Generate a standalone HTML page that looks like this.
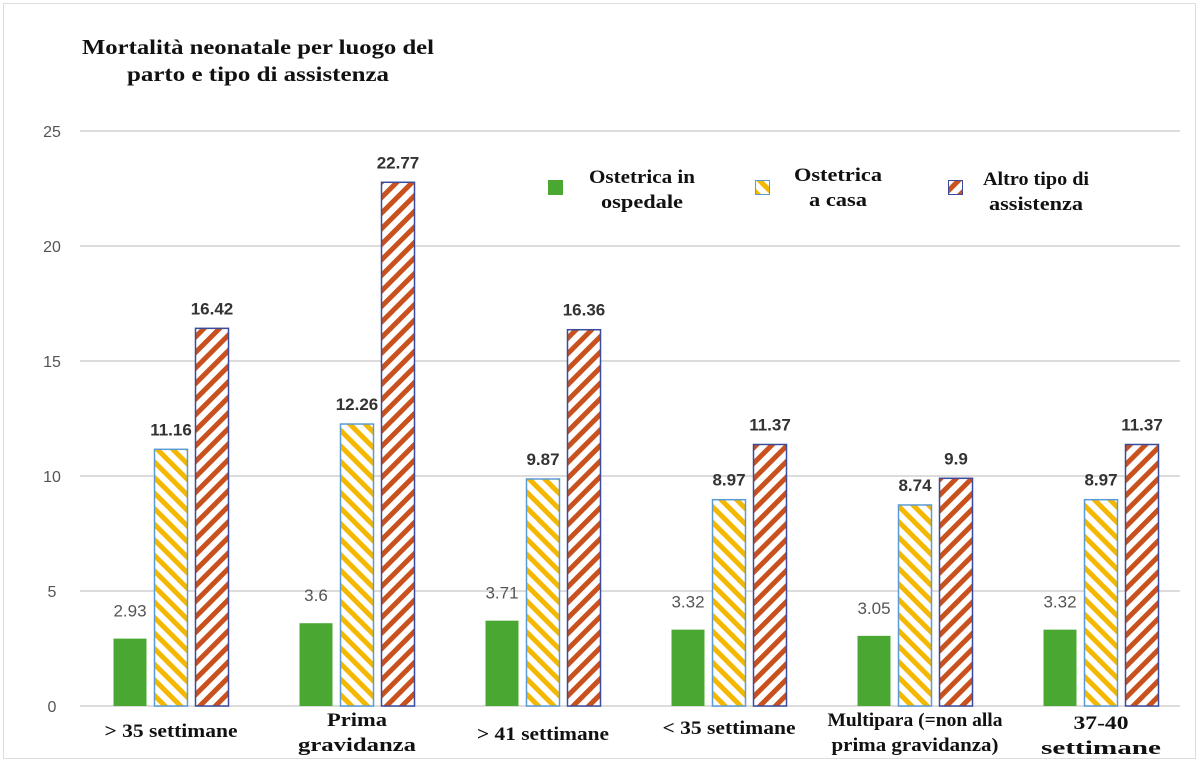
<!DOCTYPE html>
<html><head><meta charset="utf-8"><style>
html,body{margin:0;padding:0;background:#fff;}
svg{display:block;}
.serif{font-family:"Liberation Serif",serif;font-weight:bold;fill:#111;}
.sans{font-family:"Liberation Sans",sans-serif;}
</style></head><body>
<svg id="chart" width="1200" height="762" viewBox="0 0 1200 762">
<defs>
<pattern id="hatchY" patternUnits="userSpaceOnUse" width="11" height="11" patternTransform="rotate(-45)">
<rect width="11" height="11" fill="#fff"/><rect width="5" height="11" fill="#f5b800"/></pattern>
<pattern id="hatchR" patternUnits="userSpaceOnUse" width="11" height="11" patternTransform="rotate(45)">
<rect width="11" height="11" fill="#fff"/><rect width="5" height="11" fill="#c8511e"/></pattern>
</defs>
<rect x="3.5" y="3.5" width="1192" height="755" fill="#fff" stroke="#ddd"/>
<text class="serif" font-size="21" x="258" y="54" text-anchor="middle" textLength="352" lengthAdjust="spacingAndGlyphs">Mortalità neonatale per luogo del</text>
<text class="serif" font-size="21" x="258" y="81" text-anchor="middle" textLength="262" lengthAdjust="spacingAndGlyphs">parto e tipo di assistenza</text>
<g id="grid"></g>
<g id="bars"></g>
<g id="legend">
<rect x="548" y="180" width="15" height="15" fill="#4aa832"/>
<text class="serif" font-size="19" x="642" y="183" text-anchor="middle" textLength="106" lengthAdjust="spacingAndGlyphs">Ostetrica in</text>
<text class="serif" font-size="19" x="642" y="208" text-anchor="middle" textLength="82" lengthAdjust="spacingAndGlyphs">ospedale</text>
<rect x="755.5" y="180.5" width="14" height="14" fill="url(#hatchY)" stroke="#5b9bd5"/>
<text class="serif" font-size="19" x="838" y="181" text-anchor="middle" textLength="88" lengthAdjust="spacingAndGlyphs">Ostetrica</text>
<text class="serif" font-size="19" x="838" y="206" text-anchor="middle" textLength="58" lengthAdjust="spacingAndGlyphs">a casa</text>
<rect x="948.5" y="180.5" width="14" height="14" fill="url(#hatchR)" stroke="#3b4a9a"/>
<text class="serif" font-size="19" x="1036" y="185" text-anchor="middle" textLength="106" lengthAdjust="spacingAndGlyphs">Altro tipo di</text>
<text class="serif" font-size="19" x="1036" y="210" text-anchor="middle" textLength="94" lengthAdjust="spacingAndGlyphs">assistenza</text>
</g>
<g id="cats"></g>
</svg>
<script>
const categories = [["> 35 settimane"],["Prima","gravidanza"],["> 41 settimane"],["< 35 settimane"],["Multipara (=non alla","prima gravidanza)"],["37-40","settimane"]];
const hospital = [2.93, 3.6, 3.71, 3.32, 3.05, 3.32];
const home = [11.16, 12.26, 9.87, 8.97, 8.74, 8.97];
const other = [16.42, 22.77, 16.36, 11.37, 9.9, 11.37];
const ticks = [0, 5, 10, 15, 20, 25];

const NS = "http://www.w3.org/2000/svg";
const catLabelY = [[731],[720,745],[734],[728],[720,745],[723,748]];
const catLabelW = [[133],[60,118],[132],[133],[175,167],[55,120]];
const y = v => 706 - v * 23;
const groupX = i => 171 + i * 186;
function mk(tag, attrs, parent, txt){
  const e = document.createElementNS(NS, tag);
  for (const k in attrs) e.setAttribute(k, attrs[k]);
  if (txt !== undefined) e.textContent = txt;
  parent.appendChild(e); return e;
}
const grid = document.getElementById('grid');
ticks.forEach(t => {
  const l = mk('line', {x1:80, x2:1180, y1:y(t), y2:y(t), stroke:'#dcdcdc', 'stroke-width':2}, grid);
  
  
  const tx = mk('text', {x:52, y:y(t)+6, 'text-anchor':'middle', 'font-size':16, fill:'#555', class:'sans'}, grid, String(t));
  
  
});
const bars = document.getElementById('bars');
const series = [
  {vals:hospital, dx:-41, fill:'#4aa832', stroke:'none', name:'hospital', bold:false},
  {vals:home, dx:0, fill:'url(#hatchY)', stroke:'#5b9bd5', name:'home', bold:true},
  {vals:other, dx:41, fill:'url(#hatchR)', stroke:'#3b4a9a', name:'other', bold:true}
];
series.forEach(s => {
  s.vals.forEach((v, i) => {
    const cx = groupX(i) + s.dx;
    const r = mk('rect', {x:cx-16.5, y:y(v), width:33, height:706-y(v), fill:s.fill, stroke:s.stroke, 'stroke-width':1.5}, bars);
    
    
    const t = mk('text', {x:cx, y:y(v)-(s.bold?14:22), 'text-anchor':'middle', 'font-size':17, fill:s.bold?'#333':'#555', 'font-weight':s.bold?'bold':'normal', class:'sans'}, bars, String(v));
    
    
  });
});
const cats = document.getElementById('cats');
categories.forEach((lines, i) => {
  lines.forEach((ln, j) => {
    const t = mk('text', {x:groupX(i), y:catLabelY[i][j]+6, 'text-anchor':'middle', 'font-size':19, class:'serif', textLength:catLabelW[i][j], lengthAdjust:'spacingAndGlyphs'}, cats, ln);
    
    
  });
});
</script>
</body></html>
